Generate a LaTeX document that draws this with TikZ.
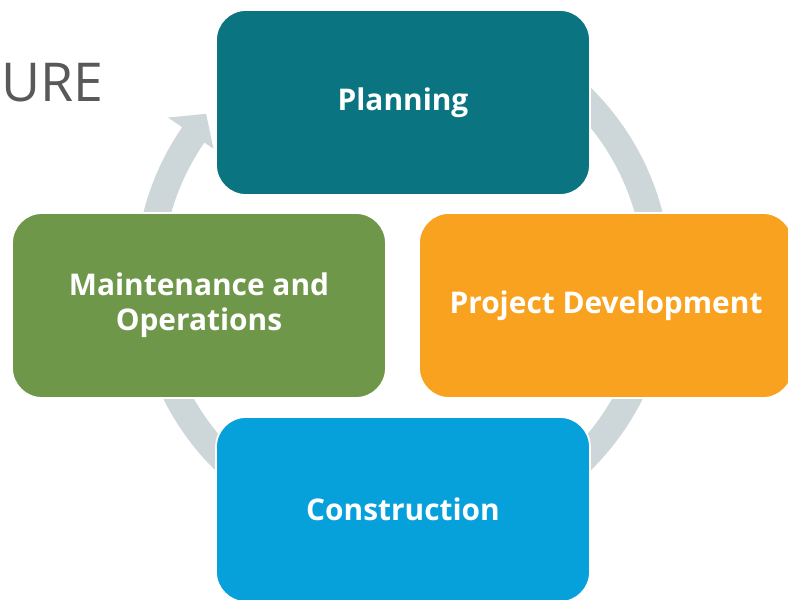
\documentclass[tikz,border=0pt]{standalone}
\usepackage{fontspec}
\usepackage{tikz}
\usetikzlibrary{positioning,calc}

\newfontfamily\stagefont{Open Sans}

\definecolor{planteal}{HTML}{0A7580}
\definecolor{devorange}{HTML}{F9A21F}
\definecolor{maintgreen}{HTML}{6F974A}
\definecolor{buildblue}{HTML}{06A0DB}
\definecolor{cyclegray}{HTML}{CDD6D9}
\definecolor{titlegray}{HTML}{595959}

\tikzset{
  stage/.style={draw=white, line width=1pt, rounded corners=0.6cm,
    minimum width=7.48cm, minimum height=3.7cm, text=white, align=center,
    font=\stagefont\bfseries\fontsize{17}{19.8}\selectfont}
}

\begin{document}
\begin{tikzpicture}[x=0.02cm, y=0.02cm]
    \useasboundingbox (0,0) rectangle (788,599);
    \clip (0,0) rectangle (788,599);

    % Title (cut off at the left)
    \node [anchor=base west, inner sep=0, text=titlegray,
      font=\stagefont\fontsize{30.5}{36}\selectfont] (title) at (1,497) {URE};

    % Cycle arrow
    \coordinate (c) at (403,320);
    \fill [cyclegray] ($(c)+(145.5:285)$) -- ($(c)+(140:257)$) -- ($(c)+(145.5:230)$)
      -- ($(c)+(145.5:241)$) arc [start angle=145.5, end angle=420, radius=241]
      -- ($(c)+(60:268)$) arc [start angle=60, end angle=-214.5, radius=268] -- cycle;

    % Stages
    \node [stage, fill=planteal] (plan) at (403,496.5) {Planning};
    \node [stage, fill=devorange] (dev) at (606,293.5) {Project Development};
    \node [stage, fill=maintgreen] (maint) at (199,293.5) {Maintenance and\\Operations};
    \node [stage, fill=buildblue] (build) at (403,89.5) {Construction};
\end{tikzpicture}
\end{document}
